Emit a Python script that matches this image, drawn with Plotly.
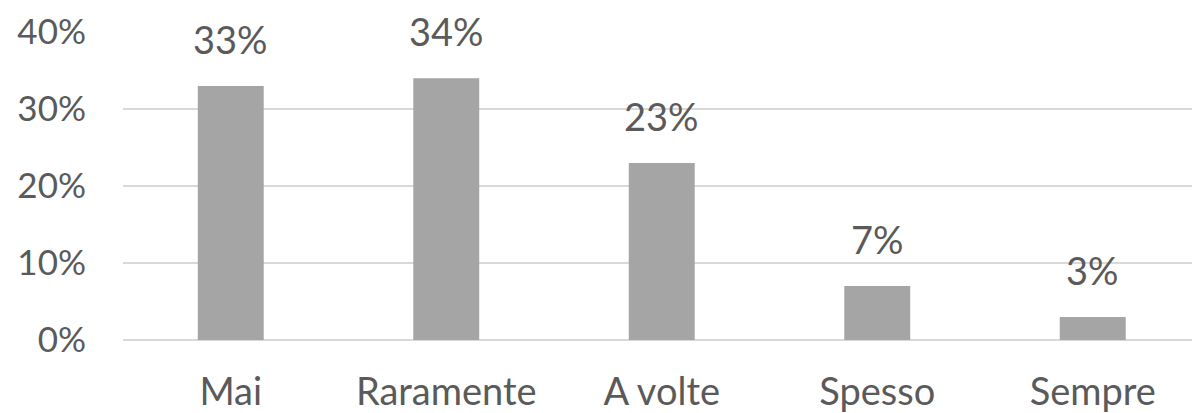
import plotly.graph_objects as go

categories = ["Mai", "Raramente", "A volte", "Spesso", "Sempre"]
values = [33, 34, 23, 7, 3]
labels = ["33%", "34%", "23%", "7%", "3%"]
y_ticks = [0, 10, 20, 30, 40]
y_tick_labels = ["0%", "10%", "20%", "30%", "40%"]

FONT = "Lato"
TXT = "#5a5a5a"

fig = go.Figure()
fig.add_trace(go.Bar(
    x=categories, y=values,
    marker=dict(color="#a5a5a5", line=dict(width=0)),
    width=0.306,
    hoverinfo="skip",
))

for c, v, t in zip(categories, values, labels):
    fig.add_annotation(x=c, y=v, text=t, showarrow=False, yanchor="bottom",
                       yshift=22, font=dict(family=FONT, size=38, color=TXT))

fig.update_layout(
    width=1192, height=413,
    margin=dict(l=123, r=0, t=32, b=73),
    paper_bgcolor="white", plot_bgcolor="white",
    showlegend=False,
    bargap=0.694,
)
fig.update_xaxes(
    range=[-0.5, -0.5 + 1069 / 215.5],
    showgrid=False, zeroline=False, showline=False,
    ticks="", tickfont=dict(family=FONT, size=38, color=TXT),
    ticklabelstandoff=26,
)
fig.update_yaxes(
    range=[0, 40], tickvals=y_ticks, ticktext=y_tick_labels,
    showgrid=True, gridcolor="#d9d9d9", gridwidth=1.5,
    zeroline=True, zerolinecolor="#d9d9d9", zerolinewidth=1.5,
    showline=False, ticks="",
    tickfont=dict(family=FONT, size=35, color=TXT),
    ticklabelstandoff=36,
)

fig.write_html("out.html")
